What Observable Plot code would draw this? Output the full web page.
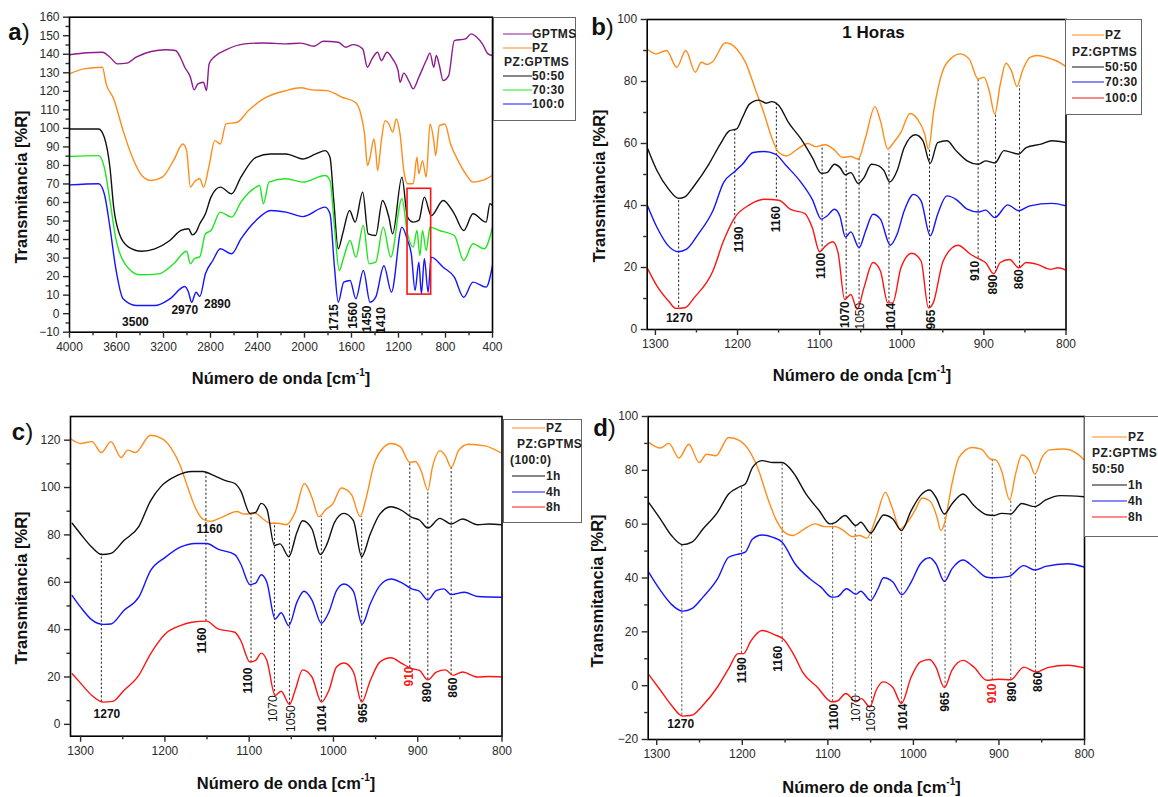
<!DOCTYPE html>
<html><head><meta charset="utf-8">
<script src="https://cdn.jsdelivr.net/npm/d3@7"></script>
<script src="https://cdn.jsdelivr.net/npm/@observablehq/plot@0.6"></script>
<style>
html,body{margin:0;padding:0;background:#fff;}
#page{position:relative;width:1158px;height:797px;overflow:hidden;font-family:Arial,"Liberation Sans",sans-serif;}
.panel{position:absolute;}
.panel svg{overflow:visible;display:block;}
.t{position:absolute;white-space:nowrap;color:#111;}
.ax{font-weight:bold;font-size:16.5px;transform:translate(-50%,-50%);}
.ay{font-weight:bold;font-size:16.5px;transform:translate(-50%,-50%) rotate(-90deg);}
.pl{font-size:24px;transform:translate(-50%,-50%);}
.ttl{font-weight:bold;font-size:17px;transform:translate(-50%,-50%);}
.lg{position:absolute;border:1.5px solid #666;box-sizing:border-box;background:#fff;}
.lt{position:absolute;font-weight:bold;font-size:12px;letter-spacing:0.4px;transform:translateY(-50%);color:#222;white-space:nowrap;}
.ll{position:absolute;height:0;border-top:1.6px solid;transform:translateY(-50%);}
</style></head><body><div id="page"></div>
<script>
// ---------- colours ----------
const ORANGE = "#ff8c1a", PURPLE = "#8e1b8e", GREEN = "#1ee61e", BLUE = "#1414ff", RED = "#ff1414", BLACK = "#111";

// ---------- panel a: full spectra ----------
const aGPTMS = [[4000,139.7],[3847,140.8],[3720,141.1],[3656,138.4],[3592,134.8],[3512,135.2],[3433,138.4],[3305,141.5],[3178,142.4],[3098,142],[3057,138.4],[3019,133],[2971,127.6],[2939,120.8],[2907,124],[2860,124.9],[2834,120.4],[2812,134.8],[2764,138.8],[2668,142.4],[2509,145.6],[2350,146.1],[2158,145.6],[2031,146],[1920,144.3],[1840,147],[1712,146.5],[1649,143.8],[1585,145.2],[1505,142.9],[1464,133],[1426,137.5],[1378,141.1],[1346,136.6],[1298,141.1],[1250,137.5],[1203,131.2],[1187,124.9],[1155,129.8],[1107,124.9],[1075,121.3],[1027,127.6],[964,136.6],[932,140.6],[900,133],[878,139.3],[852,133.9],[820,125.8],[773,128.5],[725,147.4],[629,148.3],[582,151],[534,149.2],[486,145.6],[438,140.2],[400,139.3]];
const aPZ = [[4000,129.4],[3879,132.1],[3720,133],[3688,124],[3624,115.9],[3544,98.8],[3465,84.4],[3385,74.6],[3305,71.9],[3210,73.7],[3114,82.7],[3035,91.6],[3003,88],[2971,68.3],[2939,71],[2891,72.8],[2859,68.3],[2812,79.9],[2764,93.4],[2716,91.6],[2668,102.4],[2573,103.3],[2477,109.6],[2350,115.9],[2158,120.4],[2031,121.9],[1936,120.8],[1808,120.4],[1681,116.8],[1569,114.1],[1521,107.8],[1489,97],[1464,79.9],[1442,84.4],[1410,94.3],[1394,88],[1378,77.3],[1346,93.4],[1314,104.2],[1282,102.4],[1250,98],[1219,105.1],[1187,97],[1155,77.3],[1123,70.1],[1075,70.1],[1043,84.4],[1027,75.5],[996,82.6],[964,73.7],[932,102.4],[900,93.4],[884,85.3],[852,101.5],[805,102.4],[757,91.6],[693,82.6],[629,75.5],[566,71],[486,71.9],[400,74.6]];
const a5050 = [[4000,99.7],[3879,99.7],[3752,99.7],[3704,95.2],[3656,79],[3624,57.5],[3576,43.1],[3497,35.9],[3385,33.7],[3274,35],[3146,39.5],[3051,44.9],[2987,45.8],[2955,42.5],[2923,44],[2891,48.5],[2843,53.9],[2796,62.9],[2716,68.3],[2620,64.7],[2541,73.7],[2413,84.4],[2286,86.2],[2158,86.2],[2015,83.5],[1904,86.2],[1824,88],[1783,84.4],[1751,61],[1713,35],[1675,43.1],[1617,55.7],[1569,49.4],[1505,65.6],[1458,43.1],[1394,42.2],[1336,61.1],[1282,52.1],[1250,43.1],[1171,73.7],[1123,52.1],[1075,49.4],[1027,50.3],[980,62.9],[922,52.9],[820,61.1],[725,53.9],[645,44.9],[566,53.9],[454,49.4],[422,59.3],[400,58.4]];
const a7030 = [[4000,84.8],[3752,85.3],[3704,79],[3656,61],[3608,41.3],[3528,26.9],[3401,21],[3242,21.5],[3114,26.9],[3003,33.7],[2971,26.9],[2939,29.6],[2891,30.8],[2843,43.1],[2796,44.9],[2716,54.8],[2620,52.1],[2541,60.2],[2413,68.3],[2382,69.2],[2350,59.3],[2302,71],[2158,72.8],[2015,71],[1824,74.6],[1783,71.9],[1745,46.7],[1704,23.3],[1666,30.5],[1612,39.5],[1563,30.5],[1499,47.6],[1451,26.9],[1394,27.8],[1330,46.7],[1266,30.5],[1171,62],[1123,43.1],[1075,35.9],[1043,44.9],[1018,31.4],[996,44.9],[964,34.1],[932,46.7],[852,44.9],[725,42.2],[645,28.7],[566,37.7],[470,35],[400,46.7]];
const a1000 = [[4000,69.5],[3752,70.1],[3704,64.7],[3656,46.7],[3608,25.1],[3544,8],[3433,4.4],[3274,4.4],[3146,8],[3019,14.7],[2987,11.6],[2961,6.2],[2923,11.6],[2891,9.3],[2843,21.5],[2780,28.7],[2716,35],[2620,32.3],[2541,40.4],[2413,50.3],[2286,55.7],[2158,54.8],[2015,52.4],[1824,57.5],[1783,53.9],[1745,25.1],[1713,6.2],[1666,17],[1612,17.9],[1563,8],[1499,23.3],[1442,6.2],[1394,8.9],[1324,25.9],[1260,11.6],[1171,46.7],[1123,39.5],[1091,32.3],[1059,12.5],[1027,27.8],[1005,10.7],[980,29.6],[948,11.6],[922,30.5],[820,25.1],[725,19.7],[645,8.9],[566,17],[454,14.3],[400,26]];
const aBox = [[1123, 922, 10.3, 67.4]];
const aLabels = [["3500",3439,-4.6,0],["2970",3019,1.7,0],["2890",2742,4.9,0],["1715",1751,-2,1],["1560",1585,-1,1],["1450",1464,-2.8,1],["1410",1346,-3.7,1]];
const aXMajor = [4000,3600,3200,2800,2400,2000,1600,1200,800,400];
const aXMinor = [3800,3400,3000,2600,2200,1800,1400,1000,600];
const aYMajor = [-10,0,10,20,30,40,50,60,70,80,90,100,110,120,130,140,150,160];
const aYMinor = [-5,5,15,25,35,45,55,65,75,85,95,105,115,125,135,145,155];
const aLegend = [["GPTMS",PURPLE],["PZ",ORANGE],["PZ:GPTMS",null],["50:50",BLACK],["70:30",GREEN],["100:0",BLUE]];

// ---------- panel b: 1 hour ----------
const bPZ = [[1310,90.5],[1299,88.9],[1286.5,90],[1274,84.6],[1263,90],[1251.5,83],[1244,86.2],[1237,85.5],[1231,86.2],[1214.6,92.5],[1201,90.5],[1190,86],[1179,78],[1167.5,69.5],[1158.5,62],[1149.5,57],[1140.5,56],[1127,58.2],[1114.5,60],[1104.6,59],[1093,59.6],[1082,57.9],[1072,55.5],[1062,55.8],[1053,55],[1044,62],[1032.7,71.9],[1026,67.3],[1017,58.2],[1010,60.3],[1001,63.6],[990,69.7],[981,67.9],[972,63],[967.6,58.2],[961,70.6],[950,83.5],[938.4,87.8],[929.4,88.9],[918,87.3],[907,80.8],[900,81.4],[893.5,77],[886.7,69.5],[880,79.2],[873,85.9],[866.5,83.5],[859.8,78.4],[853,83.5],[844,87.8],[835,88.4],[821.5,87.6],[808,86.2],[800,84.8]];
const b5050 = [[1310,58.7],[1298,51.2],[1284,45.3],[1271.7,42.3],[1264,42.8],[1253,46.3],[1235,53.3],[1221,59.8],[1210,64.1],[1201,64.7],[1194,68.4],[1185.5,72.7],[1174,74],[1165,73],[1158.5,73.5],[1149.5,72.2],[1138,66.8],[1122.5,61.4],[1109,55.5],[1098,50.4],[1091,50.6],[1082,53.3],[1075.4,52.3],[1068.6,49.9],[1062,50.6],[1053,47.1],[1046,49],[1037,53.3],[1028,52.8],[1021.5,51.2],[1014.7,47.6],[1005.7,51.2],[997,58.7],[983.3,62.8],[974.3,60.9],[965.3,53.6],[956.3,60.3],[945,60.9],[934,57.7],[920.4,54.4],[907,53.3],[898,54.4],[886.7,53.7],[875.5,57.7],[857.5,56.6],[848.5,58.7],[830.5,59.8],[817,60.9],[800,60.3]];
const b7030 = [[1310,40.2],[1298,32.9],[1284,26.9],[1272,25.1],[1262,25.9],[1248,30.7],[1230,38.3],[1217,47.4],[1203.4,51],[1194,53.3],[1181,57.1],[1167.5,57.4],[1154,56.6],[1140.5,52.8],[1122.5,47.4],[1109,42],[1098,35.6],[1091,36.6],[1082,38.8],[1075.4,36.6],[1068.6,29.8],[1062,31.5],[1052,26.4],[1044,31.8],[1035,37.2],[1026,35.6],[1014,27.2],[1005.7,30.7],[997,38.3],[985.5,43.6],[976.5,41.5],[965.3,30.2],[956.3,37.2],[945,43.1],[934,42],[920.4,38.8],[907,37.9],[898,38.5],[886.7,36.1],[871,40.2],[857.5,38.3],[844,39.9],[817,40.7],[800,39.9]];
const b1000 = [[1310,19.9],[1298,14],[1284,9.2],[1275,6.8],[1264,7],[1253,10.2],[1230,18.9],[1217,28.6],[1203.4,36.1],[1185.5,40.2],[1167.5,42],[1149.5,41.7],[1136,38.8],[1118,37.4],[1109,32.9],[1100,25.1],[1093,26.9],[1084,28.3],[1077.6,24.8],[1069.5,9.7],[1062,11.3],[1054.3,6.5],[1046,13.5],[1035,21.6],[1026,18.9],[1017,8.6],[1011,8.6],[1001,19.9],[987.8,24.6],[976.5,22.1],[967.5,7],[961.7,8.6],[949.6,22.1],[931.6,27.2],[916,24.2],[904.7,22.6],[898,21.6],[888,18],[880,21.6],[868.7,22.6],[857.5,19.9],[848.5,21.6],[835,21],[819,19.4],[810,19.9],[800,19.1]];
const bDrops = [[1271.7,7,42.3],[1203.4,34,64.7],[1152.7,42.5,73.3],[1097,25.3,59.5],[1067.7,10,54.5],[1052,7,55],[1015.6,8.6,57.5],[966.2,7,58],[907,23,80.8],[885.8,18.3,69.5],[856.6,20,78.5]];
const bLabels = [["1270",1271,3.8,0],["1190",1198,29,1],["1160",1152.7,35.6,1],["1100",1098,20.5,1],["1070",1069.5,4.8,1],["1050",1050.7,4.3,1,"n"],["1014",1013.4,4.3,1],["965",964,3.2,1],["910",910.5,18.9,1],["890",889,14.5,1],["860",857.5,16.2,1]];
const bLegend = [["PZ",ORANGE],["PZ:GPTMS",null],["50:50",BLACK],["70:30",BLUE],["100:0",RED]];
const bTitle = "1 Horas";

// ---------- panel c: PZ:GPTMS (100:0) ----------
const cPZ = [[1311,120.4],[1300,118.6],[1286.6,119.4],[1275.4,114.8],[1264,119.4],[1252,112.7],[1244,115.8],[1235,114.8],[1217,122.1],[1204,120.8],[1193,116.9],[1181.7,109.2],[1172.8,100],[1164,91.6],[1155,86.7],[1146,85.7],[1132.6,87.4],[1114.7,89.9],[1106,88.8],[1092.4,89.1],[1083.5,86.7],[1074.6,84.9],[1065.6,84.9],[1056,84.3],[1045.5,89.5],[1034.4,101.7],[1025.5,95.8],[1017.4,87.7],[1008.5,90.9],[1001,93],[990.6,99.8],[978.6,97],[968.3,87.7],[962,94.4],[951.8,109.9],[940.6,116.9],[931.7,118.6],[920.5,117.2],[909.4,110.6],[902.7,111],[896,107.1],[888,98.9],[882.6,108.5],[873.7,115.5],[867,113.4],[860.3,108.5],[851.3,115.8],[840,118.3],[820,117.6],[800,114.4]];
const c1h = [[1310,84.9],[1300,80.4],[1286.6,74.8],[1274.6,71.7],[1264,72.2],[1248.7,77.6],[1231,83.5],[1217,94.4],[1204,100.7],[1186,105],[1168,106.8],[1155,106.8],[1141.5,105],[1128,102.9],[1117,101.7],[1110,98.6],[1099,89.1],[1092.4,89.5],[1085.7,93.3],[1079,90.9],[1070,75.5],[1063.4,76.2],[1053,70.8],[1043.3,81.1],[1036.6,86],[1025.5,82.5],[1015.6,71.7],[1007.6,76.2],[998.7,85.3],[987.5,89.1],[976.3,86],[966.5,70.8],[956.3,80.4],[945,88.8],[931.7,91.9],[918.3,90.2],[907,87.4],[898,86.3],[888,82.9],[873.7,87],[860.3,84.6],[846.9,86.7],[829,84.3],[815.6,84.6],[800,84.3]];
const c4h = [[1310,54.4],[1300,49.5],[1286.6,44.1],[1273.2,42.2],[1264,42.4],[1248.7,48.1],[1231,53.7],[1217,64.9],[1199.6,70.5],[1181.7,74.8],[1164,76.4],[1150.4,76.4],[1137,74],[1117,71.7],[1110,67.7],[1099,59],[1092.4,59.6],[1085.7,63.2],[1079,60],[1069.2,44.5],[1062,47.1],[1053,41.7],[1043.3,51.6],[1035,56.2],[1025.5,52.5],[1014.3,42.7],[1005.4,47.4],[996.4,56.5],[987.5,59.3],[976.3,56.2],[966,42.2],[956.3,50.9],[945,58.6],[931.7,61.4],[918.3,59.6],[907,57.2],[898,56.2],[888,52.5],[878,56.5],[869,57.2],[860.3,54.8],[844.6,55.8],[829,54],[800,53.7]];
const c8h = [[1310,21.4],[1300,17.4],[1286.6,12.2],[1273.2,9.4],[1262,9.7],[1248.7,14.3],[1231,20.7],[1217,29.8],[1199.6,38.2],[1181.7,41.7],[1168,43.1],[1150.4,43.6],[1137,40.3],[1117,38.9],[1110,35.4],[1099,26.3],[1092.4,27],[1085.7,30.1],[1079,27],[1069.2,12.2],[1062,14],[1052.2,8.4],[1045.5,14.3],[1036.6,23],[1025.5,20],[1014.3,9.4],[1005.4,14.3],[996.4,24.2],[987.5,25.9],[976.3,22.1],[966.5,9.4],[956.3,18.5],[945,26.3],[931.7,28.1],[918.3,25.6],[907,23.5],[898,22.8],[888,18.8],[878,22.1],[867,23],[858,20.7],[846.9,22.1],[829,20],[815.6,20.2],[800,20]];
const cDrops = [[1275.4,9.4,72],[1151.3,43.5,106.8],[1097.8,26,89],[1070,12,85],[1052.2,8.4,84.3],[1014.3,9.4,87.7],[966.5,9.4,87.7],[909.4,24,110.6],[888,18.8,98.9],[860.3,20.7,108.5]];
const cLabels = [["1160",1147,82.5,0],["1160",1156,35.4,1],["1270",1268.8,4.5,0],["1100",1101,18.5,1],["1070",1072,6.6,1,"n"],["1050",1050,2.4,1,"n"],["1014",1013,2.4,1],["965",965.2,4.8,1],["910",910.3,20.2,1,"b",RED],["890",889.3,13.6,1],["860",858,15.5,1]];
const cLegend = [["PZ",ORANGE],["PZ:GPTMS",null],["(100:0)",null],["1h",BLACK],["4h",BLUE],["8h",RED]];

// ---------- panel d: PZ:GPTMS 50:50 ----------
const dPZ = [[1309.5,90.4],[1295.7,88.3],[1285.8,90],[1274,84.6],[1262.5,89.7],[1250.4,82.9],[1241.8,86],[1231,85.4],[1216,92.2],[1203,91],[1192,87.3],[1181.5,80.5],[1170.7,70],[1160,61.3],[1149,56.6],[1140.5,55.8],[1127.6,58.2],[1114.7,60.1],[1104,59.1],[1091,59.1],[1081.5,57.6],[1071.6,55.4],[1063,55.8],[1054.3,54.8],[1043.5,62.6],[1032.8,71.8],[1025,66.3],[1015.5,58.2],[1007,60.7],[998.3,65],[989.7,69.7],[981,68.7],[972.4,62.6],[968,57.6],[963.8,60.1],[955,74.9],[946.6,84.8],[931.5,88.5],[920.7,87.9],[910,84.2],[903.4,83.8],[897,79.9],[887.5,69],[880.6,78.6],[873.3,85.7],[864.7,83.6],[858,78.6],[849.6,84.8],[841,87.6],[823.7,87.9],[810.8,86.7],[800,83.8]];
const d1h = [[1309.5,68.1],[1295.7,61.9],[1282.8,55.8],[1269.8,52.4],[1259,53.3],[1246,58.2],[1229,64.4],[1216,71.2],[1203,73.9],[1196.6,74.9],[1188,81.1],[1177,83.6],[1164,82.9],[1153.4,82.9],[1140.5,79.2],[1125.4,71.2],[1110,65],[1097.4,60.1],[1091,60.7],[1080,63.2],[1067.2,59.5],[1061.6,60.7],[1050,56.7],[1041.4,60.7],[1035,63.4],[1024,61.9],[1014,57.6],[1002.6,65],[991.8,70.6],[981,72.7],[973.7,70],[963.8,63.8],[955,67.5],[942,71.2],[929.3,66.9],[914.2,63.5],[905.6,63.2],[897,64],[886.2,63.8],[873.3,67.7],[858,66.5],[845.3,69],[828,70.6],[800,70.2]];
const d4h = [[1309.5,42.2],[1295.7,35.4],[1282.8,30.2],[1269.8,27.7],[1259,28.6],[1246,32.9],[1229,39.7],[1216,47.7],[1203,49],[1196.6,49.6],[1188,54.5],[1177,56],[1164,55.1],[1153.4,53.3],[1138.4,45.3],[1121,39.7],[1108,36.6],[1095.3,32.9],[1088.8,33.1],[1078,36],[1067.2,33.9],[1061.6,35.1],[1050,31.7],[1041.4,36],[1035,40.1],[1024,38.5],[1013.4,33.8],[1002.6,38.5],[991.8,45.3],[981,47.5],[973.7,45.3],[963.8,38.7],[955,43.4],[942,46.7],[929.3,44],[914.2,40.3],[905.6,40.1],[888.4,40.6],[871,44.6],[858,43],[845.3,44.3],[819.4,45.3],[800,44]];
const d8h = [[1309.5,4.2],[1295.7,-1.7],[1282.8,-7.3],[1269.8,-11.3],[1259,-11],[1246,-7.3],[1229,-0.5],[1216,6.3],[1205,11.9],[1198.7,11.9],[1190,16.6],[1177,20.5],[1162,18.9],[1151.3,17.1],[1138.4,10.7],[1129.7,5.1],[1112.5,-0.5],[1095.3,-6],[1088.8,-5.7],[1079,-2.9],[1067.2,-6],[1060.8,-4.8],[1050.9,-7.9],[1043.5,-1.7],[1035.8,1.4],[1024,-0.7],[1014,-6.6],[1002.6,3.2],[991.8,8.8],[981,9.7],[973.7,6.9],[963.8,-0.7],[955,5.7],[942,9.4],[929.3,6.9],[914.2,2],[901.3,2.4],[886.2,2.2],[871,6.9],[856,5.1],[843,6.7],[819.4,7.6],[800,6.6]];
const dDrops = [[1270.7,-11,52.4],[1200.9,12,74],[1153.4,16,83],[1094.4,-6,60.3],[1068,-5.4,59.8],[1049,-8,57],[1014,-6.6,57.6],[963,-0.7,63.8],[907.8,2,84],[886.2,2.2,69],[857.3,5,78.6]];
const dLabels = [["1270",1272,-14.3,0],["1190",1199.6,5.7,1],["1160",1158.6,10,1],["1100",1093,-11.6,1],["1070",1067,-8.5,1,"n"],["1050",1049,-12.2,1,"n"],["1014",1012.5,-11.6,1],["965",962.5,-6,1],["910",907.8,-2.9,1,"b",RED],["890",884.9,-2.3,1],["860",853.9,1.4,1]];
const dLegend = [["PZ",ORANGE],["PZ:GPTMS",null],["50:50",null],["1h",BLACK],["4h",BLUE],["8h",RED]];

// shared tick values for the zoomed panels
const zXMajor = [1300,1200,1100,1000,900,800];
const zXMinor = [1250,1150,1050,950,850];
const bYMajor = [0,20,40,60,80,100], bYMinor = [10,30,50,70,90];
const cYMajor = [0,20,40,60,80,100,120], cYMinor = [10,30,50,70,90,110];
const dYMajor = [-20,0,20,40,60,80,100], dYMinor = [-10,10,30,50,70,90];

const xTitle = 'Número de onda [cm<sup style="font-size:10px;position:relative;top:-1px">-1</sup>]';
const yTitle = "Transmitancia [%R]";

// ---------- drawing ----------
const page = document.getElementById("page");
const fmt = d3.format("d");

function labelMarks(labels) {
  const base = {x: d => d[1], y: d => d[2], text: d => d[0], fontSize: 12, textAnchor: "middle", lineAnchor: "middle"};
  const groups = [
    [labels.filter(d => !d[3] && d[4] !== "n" && !d[5]), {rotate: 0, fontWeight: "bold", fill: BLACK}],
    [labels.filter(d => d[3] && d[4] !== "n" && !d[5]), {rotate: -90, fontWeight: "bold", fill: BLACK}],
    [labels.filter(d => d[3] && d[4] === "n"), {rotate: -90, fontWeight: "normal", fill: BLACK}],
    [labels.filter(d => d[5]), {rotate: -90, fontWeight: "bold", fill: RED}]
  ];
  return groups.filter(g => g[0].length).map(([data, o]) => Plot.text(data, {...base, ...o}));
}

function panel(c) {
  const marks = [
    c.drops ? Plot.ruleX(c.drops, {x: d => d[0], y1: d => d[1], y2: d => d[2], stroke: c.dropColor, strokeWidth: 1, strokeDasharray: "2.2,2"}) : null,
    ...c.series.map(([data, color]) => Plot.line(data, {x: d => d[0], y: d => d[1], stroke: color, strokeWidth: 1.4, curve: "monotone-x", clip: true})),
    ...(c.extra || []),
    ...labelMarks(c.labels),
    Plot.frame({stroke: "#000", strokeWidth: 1.6}),
    Plot.axisX(c.xMaj, {tickSize: 6, tickPadding: 4, tickFormat: fmt, label: null, strokeWidth: 1.4}),
    Plot.axisX(c.xMin, {tickSize: 3.5, fill: "none", label: null, strokeWidth: 1.4, tickFormat: () => ""}),
    Plot.axisY(c.yMaj, {tickSize: 6, tickPadding: 4, tickFormat: fmt, label: null, strokeWidth: 1.4}),
    Plot.axisY(c.yMin, {tickSize: 3.5, fill: "none", label: null, strokeWidth: 1.4, tickFormat: () => ""})
  ].filter(Boolean);
  const svg = Plot.plot({
    width: c.W, height: c.H,
    marginLeft: c.ml, marginRight: c.mr, marginTop: c.mt, marginBottom: c.mb,
    x: {domain: c.xd}, y: {domain: c.yd},
    style: {fontFamily: 'Arial, "Liberation Sans", sans-serif', fontSize: "12px", color: "#2a2a2a", background: "transparent", overflow: "visible"},
    marks
  });
  const div = document.createElement("div");
  div.className = "panel";
  div.style.left = c.left + "px"; div.style.top = c.top + "px";
  div.appendChild(svg);
  page.appendChild(div);
}

function text(cls, html, x, y) {
  const e = document.createElement("div");
  e.className = "t " + cls; e.innerHTML = html;
  e.style.left = x + "px"; e.style.top = y + "px";
  page.appendChild(e);
}

function legend(items, L) {
  const box = document.createElement("div");
  box.className = "lg";
  Object.assign(box.style, {left: L.box[0] + "px", top: L.box[1] + "px", width: L.box[2] + "px", height: L.box[3] + "px"});
  page.appendChild(box);
  items.forEach(([label, color], i) => {
    const y = L.rows[i];
    if (color) {
      const l = document.createElement("div");
      l.className = "ll";
      Object.assign(l.style, {left: L.line[0] + "px", width: (L.line[1] - L.line[0]) + "px", top: y + "px", borderTopColor: color});
      page.appendChild(l);
    }
    const t = document.createElement("div");
    t.className = "lt"; t.textContent = label;
    t.style.left = (color ? L.tx : (L.px[i] ?? L.line[0])) + "px"; t.style.top = y + "px";
    page.appendChild(t);
  });
}

// panel a
panel({left: 0, top: 0, W: 580, H: 400, ml: 69, mr: 88, mt: 16.7, mb: 68.3,
  xd: [4000, 400], yd: [-10, 160], xMaj: aXMajor, xMin: aXMinor, yMaj: aYMajor, yMin: aYMinor,
  series: [[aGPTMS, PURPLE], [aPZ, ORANGE], [a5050, BLACK], [a7030, GREEN], [a1000, BLUE]],
  extra: [Plot.rect(aBox, {x1: d => d[0], x2: d => d[1], y1: d => d[2], y2: d => d[3], fill: "none", stroke: RED, strokeWidth: 1.6})],
  labels: aLabels});
// panel b
panel({left: 580, top: 0, W: 578, H: 400, ml: 66.7, mr: 92.5, mt: 19, mb: 71,
  xd: [1310, 800], yd: [0, 100], xMaj: zXMajor, xMin: zXMinor, yMaj: bYMajor, yMin: bYMinor,
  series: [[bPZ, ORANGE], [b5050, BLACK], [b7030, BLUE], [b1000, RED]],
  drops: bDrops, dropColor: "#222", labels: bLabels});
// panel c
panel({left: 0, top: 400, W: 580, H: 397, ml: 70, mr: 78.5, mt: 16, mb: 61.3,
  xd: [1312, 800], yd: [-5, 130], xMaj: zXMajor, xMin: zXMinor, yMaj: cYMajor, yMin: cYMinor,
  series: [[cPZ, ORANGE], [c1h, BLACK], [c4h, BLUE], [c8h, RED]],
  drops: cDrops, dropColor: "#222", labels: cLabels});
// panel d
panel({left: 580, top: 400, W: 578, H: 397, ml: 67.7, mr: 74, mt: 16, mb: 58,
  xd: [1310, 800], yd: [-20, 100], xMaj: zXMajor, xMin: zXMinor, yMaj: dYMajor, yMin: dYMinor,
  series: [[dPZ, ORANGE], [d1h, BLACK], [d4h, BLUE], [d8h, RED]],
  drops: dDrops, dropColor: "#555", labels: dLabels});

// titles and panel letters
text("pl", "<b>a</b>)", 19, 32);
text("pl", "<b>b</b>)", 602.5, 27);
text("pl", "<b>c</b>)", 22.5, 432);
text("pl", "<b>d</b>)", 604.5, 428);
text("ax", xTitle, 281, 378);
text("ax", xTitle, 862, 375);
text("ax", xTitle, 286, 783);
text("ax", xTitle, 871.5, 786.5);
text("ay", yTitle, 20.7, 187);
text("ay", yTitle, 599, 186);
text("ay", yTitle, 20.7, 588);
text("ay", yTitle, 597, 591);
text("ttl", bTitle, 873.5, 33.3);

// legends
legend(aLegend, {box: [493, 16.7, 83, 104.3], rows: [34, 48, 62, 76, 90, 104], line: [503, 532], tx: 532, px: {2: 504}});
legend(bLegend, {box: [1065, 19.3, 77, 95.7], rows: [35, 51.7, 67.3, 82.3, 97.7], line: [1072, 1104], tx: 1105, px: {1: 1072}});
legend(cLegend, {box: [503.3, 419, 79, 103.7], rows: [428, 443.5, 460, 476, 491.5, 507], line: [511.5, 545], tx: 546, px: {1: 517, 2: 510}});
legend(dLegend, {box: [1084, 416, 84, 121], rows: [436.7, 453.3, 469.3, 485, 500.7, 516.7], line: [1091.7, 1126.7], tx: 1128, px: {1: 1092, 2: 1092}});
</script></body></html>
